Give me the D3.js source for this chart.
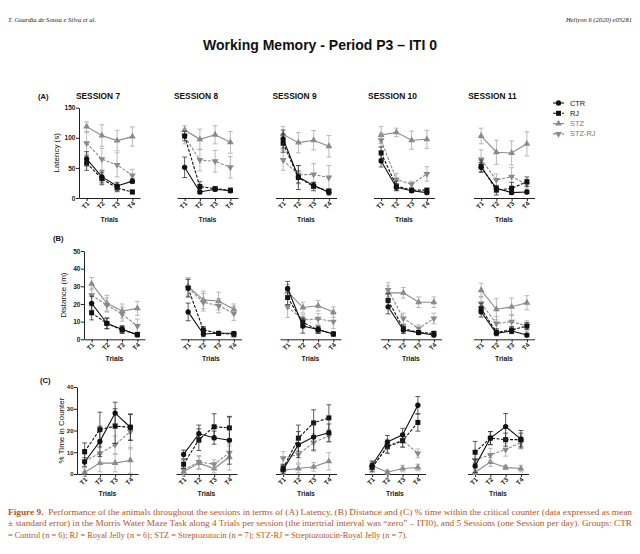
<!DOCTYPE html>
<html>
<head>
<meta charset="utf-8">
<script src="https://cdnjs.cloudflare.com/ajax/libs/d3/7.8.5/d3.min.js"></script>
<style>
  html, body { margin: 0; padding: 0; background: #fff; }
  svg { display: block; }
</style>
</head>
<body>
<div id="main"></div>
<script>
// categories
var sessions = ['SESSION 7', 'SESSION 8', 'SESSION 9', 'SESSION 10', 'SESSION 11'];
var trials = ['T1', 'T2', 'T3', 'T4'];
var groups = ['CTR', 'RJ', 'STZ', 'STZ-RJ'];

// (A) latency (s), one row per session
var latencyCTR   = [[65, 35, 20, 28], [51, 10, 14.5, 12], [98, 35, 21, 9], [61.5, 17.7, 12, 9], [51, 16, 9, 10]];
var latencyRJ    = [[58, 32, 16.5, 10], [103, 19, 15.5, 13], [91, 34, 19, 11.6], [75, 20, 13, 13], [53, 13, 16, 27]];
var latencySTZ   = [[118.6, 103.7, 95.4, 102], [113, 97.5, 105, 92.5], [105.7, 92, 96, 86], [104.6, 109, 96, 97.5], [103, 76, 74.7, 90]];
var latencySTZRJ = [[91, 64.5, 55, 37.5], [102, 63, 61, 51], [63, 38.6, 39, 34], [96, 31, 22.7, 40], [64, 30, 35.4, 23]];
var latencyCTRErr   = [[12, 10, 6, 4], [17, 3, 3, 3], [15, 10, 5, 4], [10, 5, 3, 3], [8, 3, 3, 3]];
var latencyRJErr    = [[12, 10, 6, 3], [8, 8, 3, 3], [15, 20, 7, 3], [10, 8, 3, 3], [10, 8, 10, 8]];
var latencySTZErr   = [[8, 18, 17, 16], [7, 17, 15, 18], [13, 17, 16, 18], [14, 7, 15, 15], [13, 20, 20, 20]];
var latencySTZRJErr = [[18, 18, 20, 10], [12, 18, 18, 18], [17, 15, 18, 20], [12, 10, 5, 12], [16, 10, 15, 8]];

// (B) distance (m)
var distanceCTR   = [[20.4, 9, 5.7, 2.5], [15.5, 3, 3.4, 3.4], [28.8, 7.5, 5.6, 3], [18.4, 5.3, 3.8, 2.4], [15.6, 3.4, 4.7, 2.4]];
var distanceRJ    = [[15, 9, 5.3, 2.8], [29, 5.3, 3.4, 2.8], [23.7, 9.6, 5.3, 3], [22, 6.2, 3.8, 3.4], [17.5, 4, 5.3, 7.5]];
var distanceSTZ   = [[31.5, 20.4, 16, 17.5], [30, 22.3, 21.7, 17], [27, 18, 19, 15.4], [26.3, 26.3, 21, 21], [27.8, 17, 18.4, 20.7]];
var distanceSTZRJ = [[25, 19.4, 14.3, 7.5], [29, 21, 19, 14.7], [18.4, 11, 11.6, 10], [28, 11.8, 6.2, 11.8], [20.3, 9, 10, 7.5]];
var distanceCTRErr   = [[4, 3, 2, 1], [5, 1.5, 1, 1], [4, 4, 2, 1], [4, 2, 1, 1], [3, 1, 1.5, 1]];
var distanceRJErr    = [[4, 3, 2, 1], [5, 2, 1, 1.5], [4, 3, 2, 1], [4, 2, 1, 1], [3, 2, 2, 2]];
var distanceSTZErr   = [[3.5, 4.5, 4, 4], [5, 5, 5, 3], [4, 3, 3, 3], [4, 3, 3, 3], [4, 6, 5, 4]];
var distanceSTZRJErr = [[4, 4, 4, 4], [5, 5, 4, 4], [6, 3, 3, 4], [4, 3, 2, 3], [4, 4, 4, 3]];

// (C) % time in counter
var counterCTR   = [[5.5, 15, 28, 21.5], [9, 18.5, 16.7, 15.5], [2, 13.5, 17, 19], [4, 14.7, 18, 31.6], [3.7, 16.5, 21.8, 16]];
var counterRJ    = [[10.3, 20.4, 22, 21.5], [4.5, 15.8, 21.7, 21.2], [2.5, 16.5, 23.5, 25.8], [3, 12.5, 15.3, 23.7], [10, 16.5, 15.8, 15.8]];
var counterSTZ   = [[0.8, 5, 5, 6.3], [1, 5, 2.5, 7.8], [1.8, 2.5, 3.3, 5.8], [3.8, 0.8, 2.5, 3], [0.8, 5.5, 3, 2.5]];
var counterSTZRJ = [[6, 9.5, 13.5, 19.5], [2, 5.5, 4.5, 9.8], [7.3, 9, 14.5, 17.5], [3, 13, 15.5, 9.5], [6.5, 8.8, 11.2, 14.5]];
var counterCTRErr   = [[2, 7, 5, 6], [2, 4, 3, 11], [2, 6, 6, 4], [2, 3, 3, 4], [3, 3, 6, 4]];
var counterRJErr    = [[4, 8, 8, 6], [2, 5, 6, 5], [2, 6, 6, 6], [2, 3, 3, 4], [5, 3, 3, 3]];
var counterSTZErr   = [[2, 4, 4, 6], [2, 3, 2, 6], [2, 2, 2, 4], [2, 1, 1.5, 1.5], [1, 2, 1, 1.5]];
var counterSTZRJErr = [[3, 4, 4, 8], [2, 3, 2, 3], [3, 4, 4, 3], [2, 3, 3, 2], [4, 3, 3, 3]];

var latencyTicks = [0, 50, 100, 150];
var distanceTicks = [0, 10, 20, 30, 40, 50];
var counterTicks = [0, 10, 20, 30, 40];

var captionLines = [
	'Performance of the animals throughout the sessions in terms of (A) Latency, (B) Distance and (C) % time within the critical counter (data expressed as mean',
	'\u00b1 standard error) in the Morris Water Maze Task along 4 Trials per session (the intertrial interval was \u201czero\u201d \u2013 ITI0), and 5 Sessions (one Session per day). Groups: CTR',
	'= Control (n = 6); RJ = Royal Jelly (n = 6); STZ = Streptozotocin (n = 7); STZ-RJ = Streptozotocin-Royal Jelly (n = 7).'
];

var W = 640, H = 554;
var sans = 'Liberation Sans, Arial, sans-serif';
var serif = 'Liberation Serif, Times New Roman, serif';

var svg = d3.select('#main').append('svg')
	.attr('width', W)
	.attr('height', H);

// how each group is drawn
var style = {
	'CTR':    { color: '#111', err: '#333', dash: null,  symbol: d3.symbolCircle,   size: 22, rot: 0 },
	'RJ':     { color: '#111', err: '#333', dash: '3,1.5', symbol: d3.symbolSquare,   size: 25, rot: 0 },
	'STZ':    { color: '#8a8a8a', err: '#a8a8a8', dash: null,  symbol: d3.symbolTriangle, size: 20, rot: 0 },
	'STZ-RJ': { color: '#8a8a8a', err: '#a8a8a8', dash: '3,1.5', symbol: d3.symbolTriangle, size: 20, rot: 180 }
};

var rows = [
	{ letter: '(A)', lx: 38, ly: 99, label: 'Latency (s)', labelX: 59, max: 150, ticks: latencyTicks, tickFont: 6.6,
	  y0: 198, y1: 107.7, lefts: [79, 177, 275.5, 373.5, 473.5], trialsY: 222,
	  data: { 'CTR': [latencyCTR, latencyCTRErr], 'RJ': [latencyRJ, latencyRJErr], 'STZ': [latencySTZ, latencySTZErr], 'STZ-RJ': [latencySTZRJ, latencySTZRJErr] } },
	{ letter: '(B)', lx: 53, ly: 241, label: 'Distance (m)', labelX: 66, max: 50, ticks: distanceTicks, tickFont: 6.6,
	  y0: 339.3, y1: 251, lefts: [84, 180.5, 280, 380.5, 473.5], trialsY: 361,
	  data: { 'CTR': [distanceCTR, distanceCTRErr], 'RJ': [distanceRJ, distanceRJErr], 'STZ': [distanceSTZ, distanceSTZErr], 'STZ-RJ': [distanceSTZRJ, distanceSTZRJErr] } },
	{ letter: '(C)', lx: 40, ly: 383, label: '% Time in Counter', labelX: 63.5, max: 40, ticks: counterTicks, tickFont: 6,
	  y0: 474, y1: 387, lefts: [77, 176, 275.5, 364.5, 467.5], trialsY: 496,
	  data: { 'CTR': [counterCTR, counterCTRErr], 'RJ': [counterRJ, counterRJErr], 'STZ': [counterSTZ, counterSTZErr], 'STZ-RJ': [counterSTZRJ, counterSTZRJErr] } }
];

// page header
svg.append('text').attr('x', 8).attr('y', 22)
	.style('font-family', serif).style('font-style', 'italic').style('font-size', '6.6px').style('fill', '#222')
	.text('T. Guardia de Sousa e Silva et al.');
svg.append('text').attr('x', 632).attr('y', 22).attr('text-anchor', 'end')
	.style('font-family', serif).style('font-style', 'italic').style('font-size', '6.6px').style('fill', '#222')
	.text('Heliyon 6 (2020) e03281');

svg.append('text').attr('x', 320).attr('y', 50).attr('text-anchor', 'middle')
	.style('font-family', sans).style('font-weight', 'bold').style('font-size', '14px').style('fill', '#111')
	.text('Working Memory - Period P3 \u2013 ITI 0');

// session titles
sessions.forEach(function(s, i){
	svg.append('text')
		.attr('x', rows[0].lefts[i] + 19)
		.attr('y', 99)
		.attr('text-anchor', 'middle')
		.style('font-family', sans).style('font-weight', 'bold').style('font-size', '8.4px').style('fill', '#111')
		.text(s);
});

function drawPanel(row, si){
	var left = row.lefts[si];
	var g = svg.append('g');

	var x = d3.scalePoint().domain(trials).range([left, left + 61]).padding(0.5);
	var y = d3.scaleLinear().domain([0, row.max]).range([row.y0, row.y1]);

	var xAxis = g.append('g')
		.attr('transform', 'translate(0,' + row.y0 + ')')
		.call(d3.axisBottom(x).tickSize(3).tickSizeOuter(0));
	xAxis.select('.domain').attr('stroke', '#222');
	xAxis.selectAll('line').attr('stroke', '#222');
	xAxis.selectAll('text')
		.attr('x', 1.5).attr('y', 0).attr('dy', '0.35em')
		.attr('transform', 'translate(0,5.5) rotate(-45)')
		.style('text-anchor', 'end')
		.style('font-family', sans).style('font-weight', 'bold').style('font-size', '6.5px').style('fill', '#222');

	g.append('text')
		.attr('x', left + 30.5).attr('y', row.trialsY)
		.attr('text-anchor', 'middle')
		.style('font-family', sans).style('font-weight', 'bold').style('font-size', '6.8px').style('fill', '#222')
		.text('Trials');

	if(si == 0){
		var yAxis = g.append('g')
			.attr('transform', 'translate(' + left + ',0)')
			.call(d3.axisLeft(y).tickValues(row.ticks).tickSize(3).tickSizeOuter(0));
		yAxis.select('.domain').attr('stroke', '#222');
		yAxis.selectAll('line').attr('stroke', '#222');
		yAxis.selectAll('text').attr('x', -3.5)
			.style('font-family', sans).style('font-weight', 'bold').style('font-size', row.tickFont + 'px').style('fill', '#222');

		svg.append('text')
			.attr('transform', 'translate(' + row.labelX + ',' + ((row.y0 + row.y1) / 2) + ') rotate(-90)')
			.attr('text-anchor', 'middle')
			.style('font-family', sans).style('font-size', '8px').style('fill', '#111')
			.text(row.label);
	}

	var line = d3.line()
		.x(function(d){ return x(d.t); })
		.y(function(d){ return y(d.v); });

	// gray groups first, black groups on top
	['STZ', 'STZ-RJ', 'RJ', 'CTR'].forEach(function(grp){
		var st = style[grp];
		var vals = row.data[grp][0][si];
		var errs = row.data[grp][1][si];
		var pts = trials.map(function(t, i){ return { t: t, v: vals[i], e: errs[i] }; });

		var eb = g.append('g').selectAll('g').data(pts).enter().append('g');
		eb.append('line')
			.attr('x1', function(d){ return x(d.t); }).attr('x2', function(d){ return x(d.t); })
			.attr('y1', function(d){ return y(d.v - d.e); }).attr('y2', function(d){ return y(d.v + d.e); })
			.attr('stroke', st.err).attr('stroke-width', 0.8);
		[-1, 1].forEach(function(sgn){
			eb.append('line')
				.attr('x1', function(d){ return x(d.t) - 2.4; }).attr('x2', function(d){ return x(d.t) + 2.4; })
				.attr('y1', function(d){ return y(d.v + sgn * d.e); }).attr('y2', function(d){ return y(d.v + sgn * d.e); })
				.attr('stroke', st.err).attr('stroke-width', 0.8);
		});

		g.append('path').datum(pts)
			.attr('d', line)
			.attr('fill', 'none')
			.attr('stroke', st.color)
			.attr('stroke-width', 1.1)
			.attr('stroke-dasharray', st.dash);

		g.append('g').selectAll('path').data(pts).enter().append('path')
			.attr('d', d3.symbol().type(st.symbol).size(st.size))
			.attr('transform', function(d){ return 'translate(' + x(d.t) + ',' + y(d.v) + ') rotate(' + st.rot + ')'; })
			.attr('fill', st.color);
	});
}

rows.forEach(function(row){
	svg.append('text').attr('x', row.lx).attr('y', row.ly)
		.style('font-family', sans).style('font-weight', 'bold').style('font-size', '7.6px').style('fill', '#111')
		.text(row.letter);
	sessions.forEach(function(s, si){ drawPanel(row, si); });
});

// legend
var legend = svg.append('g').attr('transform', 'translate(553,103)');
groups.forEach(function(grp, i){
	var st = style[grp];
	var lg = legend.append('g').attr('transform', 'translate(0,' + (i * 10.3) + ')');
	lg.append('line').attr('x1', 0).attr('x2', 11).attr('y1', 0).attr('y2', 0)
		.attr('stroke', st.color).attr('stroke-width', 1.1).attr('stroke-dasharray', st.dash);
	lg.append('path').attr('d', d3.symbol().type(st.symbol).size(st.size))
		.attr('transform', 'translate(5.5,0) rotate(' + st.rot + ')')
		.attr('fill', st.color);
	lg.append('text').attr('x', 17).attr('y', 0).attr('dy', '0.35em')
		.style('font-family', sans).style('font-size', '7.4px').style('fill', st.color == '#111' ? '#111' : '#777')
		.text(grp);
});

// caption: size the font so the last (unjustified) line ends where it does in the print
var capColor = '#b5561c';
var probe = svg.append('text').style('font-family', serif).style('font-size', '10px').text(captionLines[2]);
var capSize = 10 * 400 / probe.node().getComputedTextLength();
probe.remove();
captionLines.forEach(function(txt, i){
	var t = svg.append('text').attr('x', 8).attr('y', 515 + i * 11.3)
		.style('font-family', serif).style('font-size', capSize + 'px').style('fill', capColor);
	if(i == 0){
		t.append('tspan').style('font-weight', 'bold').text('Figure 9.');
		t.append('tspan').text('\u00a0\u00a0' + txt);
	} else {
		t.text(txt);
	}
	if(i < 2){
		t.attr('textLength', 624).attr('lengthAdjust', 'spacingAndGlyphs');
	}
});
</script>
</body>
</html>
